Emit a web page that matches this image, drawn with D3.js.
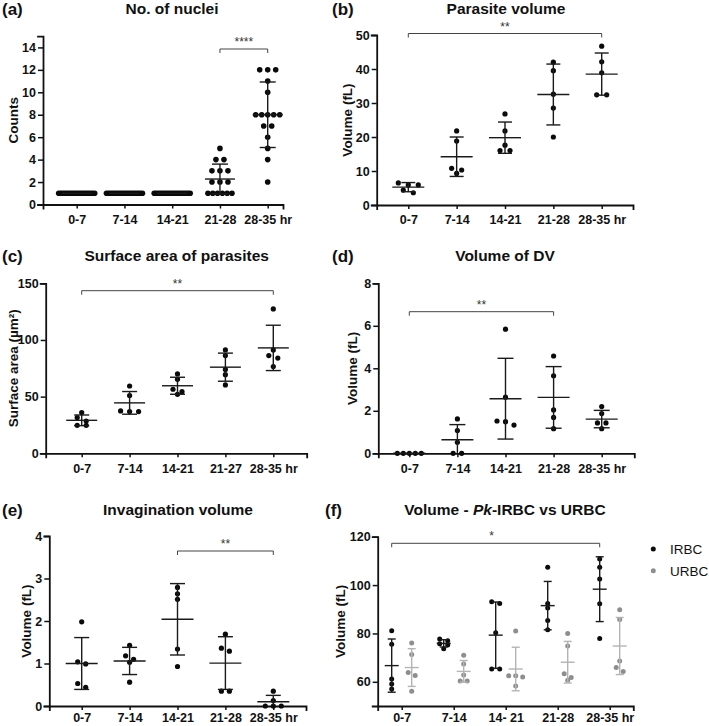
<!DOCTYPE html>
<html>
<head>
<meta charset="utf-8">
<script src="https://cdn.jsdelivr.net/npm/d3@7"></script>
<style>
  html, body { margin: 0; padding: 0; background: #fff; }
  svg { display: block; }
</style>
</head>
<body>
<script>
// ---------------- DATA ----------------
const catsA = ["0-7", "7-14", "14-21", "21-28", "28-35 hr"];
const catsC = ["0-7", "7-14", "14-21", "21-27", "28-35 hr"];
const catsF = ["0-7", "7-14", "14- 21", "21-28", "28-35 hr"];

// (a) No. of nuclei
const nucleiPts = [
  [1,1,1,1,1,1,1,1,1,1,1,1,1,1,1,1,1,1,1,1],
  [1,1,1,1,1,1,1,1,1,1,1,1,1,1,1,1,1,1,1,1],
  [1,1,1,1,1,1,1,1,1,1,1,1,1,1,1,1,1,1,1,1],
  [5,4,4,3,3,3,2,2,2,1,1,1,1,1,1],
  [12,12,12,11,10,8,8,8,8,8,7,7,6,5,4,2]
];
const nucleiMean = [1, 1, 1, 2.27, 8.0];
const nucleiSD   = [0, 0, 0, 1.33, 2.92];
const nucleiTicks = [0, 2, 4, 6, 8, 10, 12, 14];

// (b) Parasite volume (fL)
const volPts = [
  [6.5, 5.9, 5.9, 4.4, 3.6],
  [21.8, 18.8, 10.8, 10.3, 9.3],
  [26.8, 21.8, 17.6, 16.0, 16.0],
  [42.0, 39.5, 32.6, 28.5, 20.0],
  [46.7, 42.1, 38.9, 32.4, 32.4]
];
const volMean = [5.25, 14.2, 19.8, 32.5, 38.5];
const volSD   = [1.35, 5.8, 4.6, 8.95, 6.2];
const volTicks = [0, 10, 20, 30, 40, 50];

// (c) Surface area of parasites (um^2)
const areaPts = [
  [36.0, 31.5, 28.5, 24.7, 24.7],
  [59.4, 51.0, 37.4, 36.8, 36.8],
  [70.0, 65.3, 56.5, 54.4, 52.0],
  [91.2, 86.2, 74.0, 69.4, 60.3],
  [127.4, 91.2, 86.2, 84.0, 76.5]
];
const areaMean = [29.1, 44.5, 59.6, 76.0, 93.0];
const areaSD   = [4.7, 10.0, 7.5, 12.4, 20.0];
const areaTicks = [0, 50, 100, 150];

// (d) Volume of DV (fL)
const dvPts = [
  [0, 0, 0, 0, 0],
  [1.62, 1.07, 0.52, 0, 0],
  [5.84, 2.64, 1.52, 1.49, 1.33],
  [4.58, 3.65, 2.04, 1.69, 1.16],
  [2.20, 1.87, 1.43, 1.43, 1.16]
];
const dvMean = [0, 0.64, 2.57, 2.63, 1.61];
const dvSD   = [0, 0.71, 1.90, 1.45, 0.41];
const dvTicks = [0, 2, 4, 6, 8];

// (e) Invagination volume (fL)
const invPts = [
  [1.98, 1.04, 0.99, 0.53, 0.44],
  [1.43, 1.18, 1.10, 1.03, 0.56],
  [2.79, 2.64, 2.51, 1.34, 0.93],
  [1.69, 1.36, 1.29, 0.35, 0.35],
  [0.35, 0.13, 0, 0, 0]
];
const invMean = [1.00, 1.06, 2.04, 1.01, 0.10];
const invSD   = [0.61, 0.32, 0.84, 0.62, 0.15];
const invTicks = [0, 1, 2, 3, 4];

// (f) Volume - Pk-IRBC vs URBC (fL)
const irbcPts = [
  [81.1, 75.5, 61.2, 59.1, 57.0],
  [77.7, 77.0, 75.7, 75.2, 73.7],
  [93.1, 92.4, 80.3, 65.3, 65.3],
  [107.4, 92.4, 90.5, 85.4, 81.5],
  [110.8, 107.4, 102.5, 92.3, 77.9]
];
const irbcMean = [66.7, 75.9, 79.3, 91.5, 98.3];
const irbcSD   = [11.0, 1.5, 13.7, 10.0, 13.4];
const urbcPts = [
  [76.0, 71.3, 63.9, 62.6, 56.1],
  [71.0, 67.4, 62.8, 60.3, 60.3],
  [81.0, 62.5, 62.5, 62.0, 58.3],
  [80.0, 74.8, 63.3, 61.8, 60.6],
  [89.8, 85.8, 68.6, 65.9, 64.3]
];
const urbcMean = [65.9, 64.3, 65.3, 68.1, 74.8];
const urbcSD   = [7.8, 4.5, 9.0, 8.6, 11.8];
const volFTicks = [60, 80, 100, 120];
const legendLabels = ["IRBC", "URBC"];

// ---------------- DRAWING ----------------
const FONT = "'Liberation Sans', Arial, Helvetica, sans-serif";
const W = 709, H = 726;
const svg = d3.select("body").append("svg").attr("width", W).attr("height", H)
  .style("font-family", FONT);

function rowLayout(values, y, rowH, spacing, smallSpan, bigSpan) {
  const pts = values.map(v => ({ v, py: y(v), dx: 0 })).sort((a, b) => a.py - b.py);
  const rows = [];
  let cur = null;
  pts.forEach(p => {
    if (cur && p.py - cur[0].py < rowH) cur.push(p);
    else { cur = [p]; rows.push(cur); }
  });
  rows.forEach(row => {
    const n = row.length;
    if (n < 2) return;
    const span = n > 8 ? bigSpan : smallSpan;
    const s = Math.min(spacing, span / (n - 1));
    row.forEach((p, i) => { p.dx = (i - (n - 1) / 2) * s; });
  });
  return pts;
}

function drawSeries(g, x, y, pts, means, sds, o) {
  const dom = y.domain();
  pts.forEach((vals, i) => {
    const cx = x(i) + (o.offset || 0);
    const laid = rowLayout(vals, y, o.rowH || 4.5, o.spacing || 9, o.smallSpan || 24, o.bigSpan || 36);
    g.append("g").selectAll("circle").data(laid).join("circle")
      .attr("cx", d => cx + d.dx).attr("cy", d => d.py).attr("r", o.r)
      .attr("fill", o.color);
    const m = means[i], s = sds[i];
    const lo = Math.max(dom[0], m - s), hi = m + s;
    const bg = g.append("g").attr("stroke", o.barColor).attr("stroke-width", o.barW || 1.4).attr("fill", "none");
    bg.append("line").attr("x1", cx).attr("x2", cx).attr("y1", y(lo)).attr("y2", y(hi));
    bg.append("line").attr("x1", cx - o.meanHalf).attr("x2", cx + o.meanHalf).attr("y1", y(m)).attr("y2", y(m));
    if (s > 0) {
      bg.append("line").attr("x1", cx - o.capHalf).attr("x2", cx + o.capHalf).attr("y1", y(hi)).attr("y2", y(hi));
      if (m - s >= dom[0]) bg.append("line").attr("x1", cx - o.capHalf).attr("x2", cx + o.capHalf).attr("y1", y(lo)).attr("y2", y(lo));
    }
  });
}

function panel(cfg) {
  const g = svg.append("g");
  const y = d3.scaleLinear().domain(cfg.yDomain).range([cfg.y0, cfg.y1]);
  const step = (cfg.c4 - cfg.c0) / 4;
  const x = d3.scaleLinear()
    .domain([(cfg.axL - cfg.c0) / step, (cfg.axR - cfg.c0) / step])
    .range([cfg.axL, cfg.axR]);

  const xa = g.append("g").attr("transform", `translate(0,${cfg.y0})`)
    .call(d3.axisBottom(x).tickValues([0, 1, 2, 3, 4]).tickFormat(i => cfg.cats[i])
      .tickSizeOuter(0).tickSize(4).tickPadding(cfg.xPad !== undefined ? cfg.xPad : 6.5));
  const ya = g.append("g").attr("transform", `translate(${cfg.axL},0)`)
    .call(d3.axisLeft(y).tickValues(cfg.yTicks).tickFormat(d3.format("d"))
      .tickSizeOuter(0).tickSize(5).tickPadding(2));
  [xa, ya].forEach(a => {
    a.select(".domain").attr("stroke", "#111").attr("stroke-width", 1.8).attr("stroke-linecap", "square");
    a.selectAll(".tick line").attr("stroke", "#111").attr("stroke-width", 1.5);
    a.selectAll(".tick text").attr("fill", "#111").style("font-family", FONT)
      .style("font-weight", "bold").style("font-size", "12.5px");
  });

  // title
  const t = g.append("text").attr("x", cfg.titleX).attr("y", cfg.titleY)
    .attr("text-anchor", "middle").style("font-weight", "bold").style("font-size", "15.5px").attr("fill", "#111");
  cfg.title.forEach(part => {
    t.append("tspan").text(part.t).style("font-style", part.i ? "italic" : "normal");
  });
  // panel letter
  g.append("text").attr("x", cfg.letterX).attr("y", cfg.titleY + 1).text(cfg.letter)
    .style("font-weight", "bold").style("font-size", "17px").attr("fill", "#111");
  // y label (rotated)
  g.append("text")
    .attr("transform", `translate(${cfg.ylX + 5},${(cfg.y0 + cfg.y1) / 2}) rotate(-90)`)
    .attr("text-anchor", "middle")
    .style("font-weight", "bold").style("font-size", "13.5px").attr("fill", "#111")
    .text(cfg.ylabel);

  // significance bracket
  if (cfg.br) {
    const b = cfg.br;
    const xa0 = x(b.from) + (b.off || 0), xa1 = x(b.to) + (b.off || 0);
    g.append("path")
      .attr("d", `M${xa0},${b.y + 4}V${b.y}H${xa1}V${b.y + 4}`)
      .attr("fill", "none").attr("stroke", "#444").attr("stroke-width", 1);
    g.append("text").attr("x", b.tx !== undefined ? b.tx : (xa0 + xa1) / 2).attr("y", b.y - 3)
      .attr("text-anchor", "middle").style("font-size", "12px").attr("fill", "#333").text(b.label);
  }
  return { g, x, y };
}

const dotBlack = "#0a0a0a";
const barBlack = "#1a1a1a";

// (a)
{
  const p = panel({ cats: catsA, yDomain: [0, 15], y0: 204.5, y1: 36.2, yTicks: nucleiTicks,
    axL: 43, axR: 283, c0: 76.7, c4: 267.7,
    title: [{ t: "No. of nuclei" }], titleX: 172, titleY: 14, letter: "(a)", letterX: 2,
    ylabel: "Counts", ylX: 13,
    br: { from: 3, to: 4, y: 49, label: "****" } });
  drawSeries(p.g, p.x, p.y, nucleiPts, nucleiMean, nucleiSD,
    { r: 2.8, color: dotBlack, barColor: barBlack, meanHalf: 15, capHalf: 8, spacing: 8, smallSpan: 24, bigSpan: 36, rowH: 4 });
}
// (b)
{
  const p = panel({ cats: catsA, yDomain: [0, 50], y0: 205, y1: 35, yTicks: volTicks,
    axL: 376.7, axR: 633, c0: 408.3, c4: 601.7,
    title: [{ t: "Parasite volume" }], titleX: 506, titleY: 14, letter: "(b)", letterX: 332,
    ylabel: "Volume (fL)", ylX: 347,
    br: { from: 0, to: 4, y: 33.5, label: "**" } });
  drawSeries(p.g, p.x, p.y, volPts, volMean, volSD,
    { r: 2.6, color: dotBlack, barColor: barBlack, meanHalf: 16, capHalf: 7, spacing: 10 });
}
// (c)
{
  const p = panel({ cats: catsC, yDomain: [0, 150], y0: 453.3, y1: 283.3, yTicks: areaTicks,
    axL: 45.7, axR: 306.7, c0: 81.7, c4: 273.3,
    title: [{ t: "Surface area of parasites" }], titleX: 176.7, titleY: 261, letter: "(c)", letterX: 2,
    ylabel: "Surface area (\u00b5m\u00b2)", ylX: 13,
    br: { from: 0, to: 4, y: 290.7, label: "**" } });
  drawSeries(p.g, p.x, p.y, areaPts, areaMean, areaSD,
    { r: 2.6, color: dotBlack, barColor: barBlack, meanHalf: 15.5, capHalf: 7.5, spacing: 9 });
}
// (d)
{
  const p = panel({ cats: catsA, yDomain: [0, 8], y0: 453.3, y1: 283.3, yTicks: dvTicks,
    axL: 378.3, axR: 634.3, c0: 409.3, c4: 601.7,
    title: [{ t: "Volume of DV" }], titleX: 505, titleY: 261, letter: "(d)", letterX: 332,
    ylabel: "Volume (fL)", ylX: 352,
    br: { from: 0, to: 3, y: 311.7, label: "**" } });
  drawSeries(p.g, p.x, p.y, dvPts, dvMean, dvSD,
    { r: 2.6, color: dotBlack, barColor: barBlack, meanHalf: 16, capHalf: 8, spacing: 8.5 });
}
// (e)
{
  const p = panel({ cats: catsA, yDomain: [0, 4], y0: 706, y1: 536, yTicks: invTicks,
    axL: 49.3, axR: 306, c0: 81.7, c4: 273.3, xPad: 3,
    title: [{ t: "Invagination volume" }], titleX: 178, titleY: 515, letter: "(e)", letterX: 2,
    ylabel: "Volume (fL)", ylX: 26,
    br: { from: 2, to: 4, y: 551, label: "**" } });
  drawSeries(p.g, p.x, p.y, invPts, invMean, invSD,
    { r: 2.6, color: dotBlack, barColor: barBlack, meanHalf: 16, capHalf: 7.5, spacing: 8 });
}
// (f)
{
  const p = panel({ cats: catsF, yDomain: [50, 120], y0: 706, y1: 536.7, yTicks: volFTicks,
    axL: 377.7, axR: 633.3, c0: 401.7, c4: 609.7, xPad: 3,
    title: [{ t: "Volume - " }, { t: "Pk", i: true }, { t: "-IRBC vs URBC" }], titleX: 505, titleY: 515,
    letter: "(f)", letterX: 325,
    ylabel: "Volume (fL)", ylX: 340,
    br: { from: 0, to: 4, off: -10, y: 543.3, label: "*", tx: 491.7 } });
  drawSeries(p.g, p.x, p.y, irbcPts, irbcMean, irbcSD,
    { offset: -10, r: 2.5, color: dotBlack, barColor: barBlack, meanHalf: 7, capHalf: 4, spacing: 8, smallSpan: 16 });
  drawSeries(p.g, p.x, p.y, urbcPts, urbcMean, urbcSD,
    { offset: 10, r: 2.5, color: "#8e8e8e", barColor: "#b4b4b4", meanHalf: 7, capHalf: 4, spacing: 7, smallSpan: 14 });

  // legend
  const lg = svg.append("g");
  const legColors = [dotBlack, "#8e8e8e"];
  legendLabels.forEach((lab, i) => {
    const ly = 549 + i * 21.7;
    lg.append("circle").attr("cx", 653.3).attr("cy", ly).attr("r", 2.5).attr("fill", legColors[i]);
    lg.append("text").attr("x", 670).attr("y", ly).attr("dy", "0.36em")
      .style("font-size", "13.5px").attr("fill", "#111").text(lab);
  });
}
</script>
</body>
</html>
